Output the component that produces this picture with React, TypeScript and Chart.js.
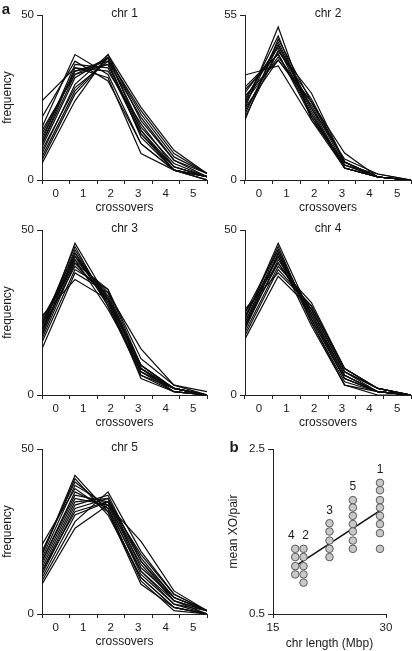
import React, { useEffect, useRef } from 'react';
import { Chart, registerables } from 'chart.js';

Chart.register(...registerables);

const FONT = "'Liberation Sans', Arial, Helvetica, sans-serif";
const TEXT = '#1a1a1a';
const AXIS = '#222222';
const LINE = '#0d0d0d';
Chart.defaults.font.family = FONT;
Chart.defaults.color = TEXT;

// ---- panel a: crossover frequency distributions (% of meioses) ----
const crossoverLabels = ['0', '1', '2', '3', '4', '5'];
const crossoverCounts = [0, 1, 2, 3, 4, 5];

const chr1Freq = [
  [24, 34, 31, 8, 3, 0],
  [19, 36, 30, 11, 3, 1],
  [16, 38, 32, 11, 3, 0],
  [14, 33, 36, 13, 3, 1],
  [12, 35, 34, 14, 4, 1],
  [11, 32, 37, 15, 4, 1],
  [10, 31, 37, 16, 5, 1],
  [8, 29, 38, 18, 6, 1],
  [6, 26, 37, 21, 8, 2],
  [5, 24, 38, 22, 9, 2],
  [13, 33, 35, 15, 3, 1],
  [11, 34, 33, 17, 4, 1],
  [9, 28, 36, 19, 6, 2],
  [15, 32, 35, 14, 3, 1],
  [7, 27, 37, 20, 7, 2],
];

const chr2Freq = [
  [35, 38, 20, 6, 1, 0],
  [31, 42, 21, 5, 1, 0],
  [29, 44, 22, 4, 1, 0],
  [27, 45, 23, 4, 1, 0],
  [25, 46, 24, 4, 1, 0],
  [24, 51, 20, 4, 1, 0],
  [23, 43, 27, 6, 1, 0],
  [26, 41, 26, 6, 1, 0],
  [20, 47, 26, 6, 1, 0],
  [28, 40, 25, 5, 2, 0],
  [22, 45, 24, 7, 2, 0],
  [30, 42, 22, 5, 1, 0],
  [26, 48, 21, 4, 1, 0],
  [21, 43, 29, 6, 1, 0],
  [24, 40, 26, 9, 1, 0],
];

const chr3Freq = [
  [24, 35, 29, 9, 2, 0],
  [22, 40, 29, 8, 1, 0],
  [21, 42, 28, 7, 2, 0],
  [20, 44, 28, 6, 2, 0],
  [19, 46, 29, 5, 1, 0],
  [22, 43, 27, 7, 1, 0],
  [18, 41, 31, 8, 2, 0],
  [17, 40, 32, 9, 2, 0],
  [16, 38, 32, 11, 3, 0],
  [14, 37, 31, 14, 3, 1],
  [23, 41, 26, 8, 2, 0],
  [20, 39, 30, 9, 2, 0],
  [18, 43, 29, 8, 2, 0],
  [21, 45, 27, 6, 1, 0],
  [19, 42, 30, 7, 2, 0],
];

const chr4Freq = [
  [26, 37, 27, 8, 2, 0],
  [25, 40, 26, 7, 1, 0],
  [24, 42, 25, 6, 1, 0],
  [23, 46, 24, 5, 1, 0],
  [22, 44, 23, 5, 1, 0],
  [21, 43, 24, 6, 1, 0],
  [20, 41, 26, 7, 2, 0],
  [19, 39, 28, 8, 2, 0],
  [18, 38, 27, 8, 2, 0],
  [17, 36, 26, 7, 2, 0],
  [23, 45, 22, 4, 1, 0],
  [22, 42, 21, 3, 0, 0],
  [25, 44, 23, 5, 1, 0],
  [21, 40, 25, 6, 1, 0],
  [20, 43, 22, 3, 1, 0],
];

const chr5Freq = [
  [21, 38, 31, 11, 2, 0],
  [19, 40, 32, 10, 1, 0],
  [18, 42, 31, 9, 2, 0],
  [17, 39, 33, 12, 3, 0],
  [16, 36, 34, 13, 3, 1],
  [15, 35, 33, 15, 4, 1],
  [14, 34, 35, 14, 5, 1],
  [13, 33, 36, 16, 4, 1],
  [12, 32, 35, 17, 5, 1],
  [11, 30, 34, 18, 6, 1],
  [10, 28, 37, 19, 6, 1],
  [9, 26, 33, 22, 7, 1],
  [16, 37, 32, 13, 4, 0],
  [18, 41, 30, 11, 2, 0],
  [13, 31, 34, 16, 5, 1],
];

// ---- panel b: mean crossovers per pair vs chromosome length ----
const chrNames = ['4', '2', '3', '5', '1'];
const chrLengthMbp = [17.95, 19.05, 22.5, 25.6, 29.2];
const xoChr4 = [1.29, 1.19, 1.08, 0.98];
const xoChr2 = [1.29, 1.19, 1.08, 0.98, 0.88];
const xoChr3 = [1.6, 1.5, 1.39, 1.29, 1.19];
const xoChr5 = [1.88, 1.79, 1.69, 1.59, 1.5, 1.39, 1.29];
const xoChr1 = [2.09, 2.0, 1.88, 1.79, 1.69, 1.59, 1.48, 1.29];
const xoColumns = [xoChr4, xoChr2, xoChr3, xoChr5, xoChr1];
const fitLengths = [17.8, 29.3];
const fitXO = [1.07, 1.76];

function textPlugin(cfg: any) {
  return {
    id: 'panelText',
    afterDraw(chart: any) {
      const ctx = chart.ctx;
      const ca = chart.chartArea;
      ctx.save();
      ctx.fillStyle = TEXT;
      ctx.textAlign = 'center';
      ctx.textBaseline = 'middle';
      if (cfg.title) {
        ctx.font = `12px ${FONT}`;
        ctx.fillText(cfg.title, (ca.left + ca.right) / 2, ca.top - 1.5);
      }
      if (cfg.letter) {
        ctx.font = `bold 15px ${FONT}`;
        ctx.fillText(cfg.letter, cfg.letterX, cfg.letterY);
      }
      if (cfg.columnLabels) {
        ctx.font = `12px ${FONT}`;
        const xs = chart.scales.x;
        const ys = chart.scales.y;
        cfg.columnLabels.forEach((lab: string, i: number) => {
          const px = xs.getPixelForValue(chrLengthMbp[i]) + (cfg.labelNudge ? cfg.labelNudge[i] : 0);
          const py = ys.getPixelForValue(Math.max(...xoColumns[i])) - 13;
          ctx.fillText(lab, px, py);
        });
      }
      ctx.restore();
    },
  };
}

type Area = { L: number; T: number; R: number; B: number };

function LinePanel(props: any) {
  const { left, top, width, height, area, yMax, series, title, yTitle, letter } = props;
  const ref = useRef<HTMLCanvasElement>(null);
  useEffect(() => {
    const a: Area = area;
    const chart = new Chart(ref.current as HTMLCanvasElement, {
      type: 'line',
      data: {
        datasets: series.map((s: number[]) => ({
          data: s.map((v, i) => ({ x: crossoverCounts[i], y: v })),
          xAxisID: 'x',
          yAxisID: 'y',
          borderColor: LINE,
          borderWidth: 1.2,
          pointRadius: 0,
          fill: false,
          tension: 0,
        })),
      },
      options: {
        responsive: false,
        animation: false,
        events: [],
        layout: { padding: { left: 0, top: a.T - top, right: left + width - a.R, bottom: 0 } },
        plugins: { legend: { display: false }, tooltip: { enabled: false }, title: { display: false } },
        scales: {
          x: { type: 'linear', min: 0, max: 5, display: false },
          xc: {
            type: 'category',
            axis: 'x',
            position: 'bottom',
            labels: crossoverLabels,
            min: '0',
            max: '5',
            offset: true,
            grid: { offset: true, drawOnChartArea: false, drawTicks: true, tickLength: 4, color: AXIS, tickColor: AXIS, lineWidth: 1 },
            border: { display: true, color: AXIS, width: 1 },
            ticks: { padding: 3, font: { size: 11.5 }, color: TEXT, maxRotation: 0, autoSkip: false },
            title: { display: true, text: 'crossovers', font: { size: 12 }, color: TEXT, padding: { top: 0, bottom: 2.3 } },
            afterFit: (s: any) => { s.height = top + height - a.B; },
          },
          y: {
            type: 'linear',
            position: 'left',
            min: 0,
            max: yMax,
            afterBuildTicks: (s: any) => { s.ticks = [{ value: 0 }, { value: yMax }]; },
            grid: { drawOnChartArea: false, drawTicks: true, tickLength: 5, color: AXIS, tickColor: AXIS, lineWidth: 1 },
            border: { display: true, color: AXIS, width: 1 },
            ticks: { padding: 3, font: { size: 11.5 }, color: TEXT },
            title: { display: !!yTitle, text: yTitle || '', font: { size: 12 }, color: TEXT, padding: { top: 0.3, bottom: 0 } },
            afterFit: (s: any) => { s.width = a.L - left; },
          },
        },
      } as any,
      plugins: [textPlugin({ title, letter, letterX: 6, letterY: 9.5 })],
    } as any);
    return () => chart.destroy();
  }, []);
  return (
    <div style={{ position: 'absolute', left, top, width, height }}>
      <canvas ref={ref} width={width} height={height} style={{ display: 'block' }} />
    </div>
  );
}

function ScatterPanel(props: any) {
  const { left, top, width, height, area } = props;
  const ref = useRef<HTMLCanvasElement>(null);
  useEffect(() => {
    const a: Area = area;
    const pointSets = xoColumns.map((col, i) => ({
      type: 'scatter',
      data: col.map((v) => ({ x: chrLengthMbp[i], y: v })),
      pointRadius: 3.8,
      pointBorderWidth: 1,
      backgroundColor: '#c8c8c8',
      borderColor: '#5a5a5a',
      showLine: false,
    }));
    const fitSet = {
      type: 'line',
      data: fitLengths.map((x, i) => ({ x, y: fitXO[i] })),
      borderColor: LINE,
      borderWidth: 1.5,
      pointRadius: 0,
      showLine: true,
      fill: false,
    };
    const chart = new Chart(ref.current as HTMLCanvasElement, {
      type: 'scatter',
      data: { datasets: [...pointSets, fitSet] as any },
      options: {
        responsive: false,
        animation: false,
        events: [],
        layout: { padding: { left: 0, top: a.T - top, right: left + width - a.R, bottom: 0 } },
        plugins: { legend: { display: false }, tooltip: { enabled: false }, title: { display: false } },
        scales: {
          x: {
            type: 'linear',
            position: 'bottom',
            min: 15,
            max: 30,
            afterBuildTicks: (s: any) => { s.ticks = [{ value: 15 }, { value: 30 }]; },
            grid: { drawOnChartArea: false, drawTicks: true, tickLength: 4, color: AXIS, tickColor: AXIS, lineWidth: 1 },
            border: { display: true, color: AXIS, width: 1 },
            ticks: { padding: 3, font: { size: 11.5 }, color: TEXT, maxRotation: 0 },
            title: { display: true, text: 'chr length (Mbp)', font: { size: 12 }, color: TEXT, padding: { top: 0, bottom: 0 } },
            afterFit: (s: any) => { s.height = top + height - a.B; },
          },
          y: {
            type: 'linear',
            position: 'left',
            min: 0.5,
            max: 2.5,
            afterBuildTicks: (s: any) => { s.ticks = [{ value: 0.5 }, { value: 2.5 }]; },
            grid: { drawOnChartArea: false, drawTicks: true, tickLength: 5, color: AXIS, tickColor: AXIS, lineWidth: 1 },
            border: { display: true, color: AXIS, width: 1 },
            ticks: { padding: 3, font: { size: 11.5 }, color: TEXT, callback: (v: any) => Number(v).toFixed(1) },
            title: { display: true, text: 'mean XO/pair', font: { size: 12 }, color: TEXT, padding: { top: 18.8, bottom: 0 } },
            afterFit: (s: any) => { s.width = a.L - left; },
          },
        },
      } as any,
      plugins: [textPlugin({ letter: 'b', letterX: 26, letterY: 16, columnLabels: chrNames, labelNudge: [-4, 2, 0, 0, 0] })],
    } as any);
    return () => chart.destroy();
  }, []);
  return (
    <div style={{ position: 'absolute', left, top, width, height }}>
      <canvas ref={ref} width={width} height={height} style={{ display: 'block' }} />
    </div>
  );
}

export default function App() {
  return (
    <div style={{ position: 'absolute', left: 0, top: 0, width: 412, height: 651, background: '#ffffff', overflow: 'hidden' }}>
      <LinePanel left={0} top={0} width={210} height={217} area={{ L: 42, T: 15, R: 207, B: 180 }}
        yMax={50} series={chr1Freq} title="chr 1" yTitle="frequency" letter="a" />
      <LinePanel left={208} top={0} width={204} height={217} area={{ L: 245, T: 15, R: 411, B: 180 }}
        yMax={55} series={chr2Freq} title="chr 2" />
      <LinePanel left={0} top={217} width={210} height={215} area={{ L: 42, T: 230, R: 207, B: 395 }}
        yMax={50} series={chr3Freq} title="chr 3" yTitle="frequency" />
      <LinePanel left={208} top={217} width={204} height={215} area={{ L: 245, T: 230, R: 411, B: 395 }}
        yMax={50} series={chr4Freq} title="chr 4" />
      <LinePanel left={0} top={432} width={210} height={219} area={{ L: 42, T: 449, R: 207, B: 614 }}
        yMax={50} series={chr5Freq} title="chr 5" yTitle="frequency" />
      <ScatterPanel left={208} top={432} width={204} height={219} area={{ L: 273, T: 449, R: 386, B: 614 }} />
    </div>
  );
}
